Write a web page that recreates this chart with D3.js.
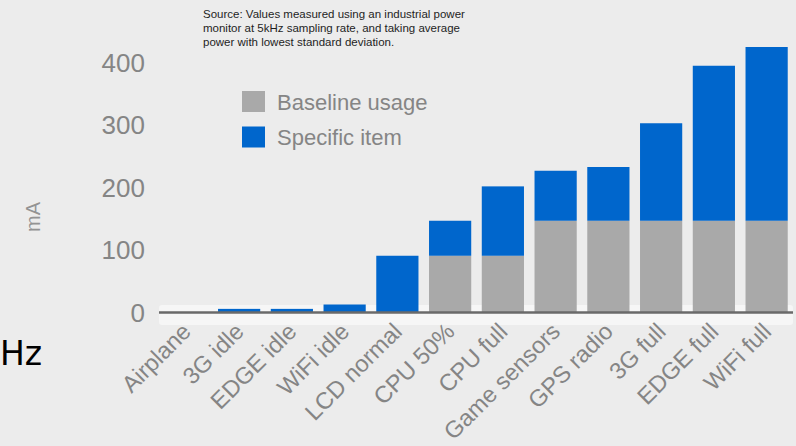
<!DOCTYPE html>
<html><head><meta charset="utf-8">
<script src="https://cdn.jsdelivr.net/npm/d3@7"></script>
<style>html,body{margin:0;padding:0;background:#ececec;overflow:hidden}svg{display:block}</style>
</head><body>
<script>
const categories = ["Airplane","3G idle","EDGE idle","WiFi idle","LCD normal","CPU 50%","CPU full","Game sensors","GPS radio","3G full","EDGE full","WiFi full"];
const baseline = [0,0,0,0,0,90,90,146,146,146,146,146];
const specific = [0,5,5,12,90,56,111,80,86,156,248,278];
const yTicks = [0,100,200,300,400];
const seriesNames = ["Baseline usage","Specific item"];
const seriesColors = ["#a9a9a9","#0066cc"];
const sourceLines = ["Source: Values measured using an industrial power","monitor at 5kHz sampling rate, and taking average","power with lowest standard deviation."];

const W = 796, H = 446;
const svg = d3.select("body").append("svg").attr("width", W).attr("height", H);
svg.append("rect").attr("width", W).attr("height", H).attr("fill", "#ececec");

const x = d3.scaleBand().domain(categories).range([160, 793]).paddingInner(0.2).paddingOuter(0.1);
const y = d3.scaleLinear().domain([0, 400]).range([312, 62]);

// platform
svg.append("rect").attr("x", 159).attr("y", 305).attr("width", 634).attr("height", 20).attr("rx", 3)
  .attr("fill", "#f6f6f6");

const stacked = categories.map((c, i) => ({c, b: baseline[i], s: specific[i]}));
const g = svg.append("g");
g.selectAll("rect.base").data(stacked).join("rect").attr("class","base")
  .attr("x", d => x(d.c)).attr("width", x.bandwidth())
  .attr("y", d => y(d.b)).attr("height", d => y(0) - y(d.b))
  .attr("fill", seriesColors[0]);
g.selectAll("rect.spec").data(stacked).join("rect").attr("class","spec")
  .attr("x", d => x(d.c)).attr("width", x.bandwidth())
  .attr("y", d => y(d.b + d.s)).attr("height", d => y(d.b) - y(d.b + d.s))
  .attr("fill", seriesColors[1]);

// axis line
svg.append("line").attr("x1", 159).attr("x2", 793).attr("y1", 312.5).attr("y2", 312.5)
  .attr("stroke", "#6a6a6a").attr("stroke-width", 2.5);

// y axis labels
const yAxis = d3.axisLeft(y).tickValues(yTicks).tickSize(0).tickPadding(0);
const ya = svg.append("g").attr("transform", "translate(145,0)").call(yAxis);
ya.select(".domain").remove();
ya.selectAll("text").attr("font-family", "Liberation Sans, Arial, sans-serif").attr("font-size", 26)
  .attr("fill", "#858585").attr("dy", "0.36em");

svg.append("text").attr("transform", "translate(40,217) rotate(-90)").attr("text-anchor", "middle")
  .attr("font-family", "Liberation Sans, Arial, sans-serif").attr("font-size", 20).attr("fill", "#939393").text("mA");

// x axis labels
const xAxis = d3.axisBottom(x).tickSize(0).tickPadding(0);
const xa = svg.append("g").attr("transform", "translate(0,312)").call(xAxis);
xa.select(".domain").remove();
xa.selectAll("text").attr("font-family", "Liberation Sans, Arial, sans-serif").attr("font-size", 23.5)
  .attr("fill", "#858585").attr("text-anchor", "end").attr("dy", null).attr("y", 0)
  .attr("transform", "translate(6,21) rotate(-45)");

// legend
const lg = svg.append("g").attr("transform", "translate(242,91)");
seriesNames.forEach((n, i) => {
  lg.append("rect").attr("x", 0).attr("y", i * 35.5).attr("width", 23).attr("height", 21).attr("fill", seriesColors[i]);
  lg.append("text").attr("x", 35).attr("y", i * 35.5 + 18.5).attr("font-family", "Liberation Sans, Arial, sans-serif")
    .attr("font-size", 22).attr("fill", "#858585").text(n);
});

// source note
const st = svg.append("text").attr("font-family", "Liberation Sans, Arial, sans-serif").attr("font-size", 11.5).attr("fill", "#1e1e1e");
sourceLines.forEach((l, i) => st.append("tspan").attr("x", 203).attr("y", 17.5 + i * 14.2).text(l));

// text fragment at left edge
svg.append("text").attr("x", 0).attr("y", 365).attr("font-family", "DejaVu Sans, sans-serif").attr("font-size", 33)
  .attr("fill", "#000").text("Hz");
</script>
</body></html>
